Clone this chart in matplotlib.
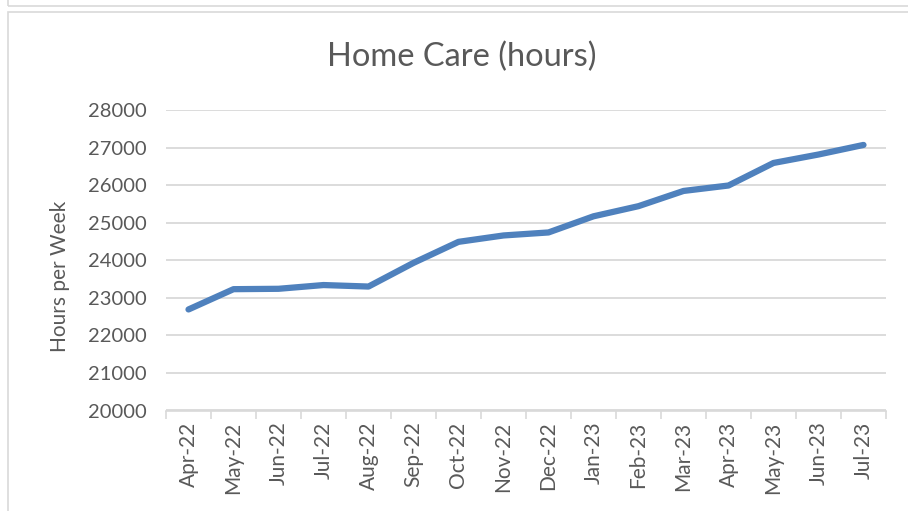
import matplotlib
matplotlib.use("Agg")
import matplotlib.pyplot as plt
from matplotlib.patches import Rectangle

months = ["Apr-22", "May-22", "Jun-22", "Jul-22", "Aug-22", "Sep-22", "Oct-22",
          "Nov-22", "Dec-22", "Jan-23", "Feb-23", "Mar-23", "Apr-23", "May-23",
          "Jun-23", "Jul-23"]
hours = [22690, 23230, 23240, 23340, 23300, 23930, 24490, 24660, 24740,
         25170, 25440, 25845, 25990, 26590, 26815, 27070]
yticks = [20000, 21000, 22000, 23000, 24000, 25000, 26000, 27000, 28000]

plt.rcParams['font.family'] = ['Lato', 'DejaVu Sans']
txt = '#595959'
W, H = 908, 511
fig = plt.figure(figsize=(W / 100, H / 100), dpi=100)

# outer frames (Excel chart area borders)
fig.add_artist(Rectangle((8 / W, 1 - 6 / H), 1.2, 0.2, transform=fig.transFigure,
                         fill=False, edgecolor='#d9d9d9', lw=1.2, clip_on=False))
fig.add_artist(Rectangle((8 / W, -0.2), 1.2, 1 - 12 / H + 0.2, transform=fig.transFigure,
                         fill=False, edgecolor='#d9d9d9', lw=1.2, clip_on=False))

ax = fig.add_axes([166 / W, 1 - 410.5 / H, 720 / W, 300.5 / H])
x = list(range(len(months)))
ax.plot(x, hours, color='#4f81bd', lw=4.5, solid_capstyle='round', solid_joinstyle='round')
ax.set_xlim(-0.5, len(months) - 0.5)
ax.set_ylim(20000, 28000)
ax.set_yticks(yticks)
ax.set_yticklabels([str(v) for v in yticks], fontsize=14.5, color=txt)
ax.yaxis.grid(True, color='#d9d9d9', lw=1.3)
ax.set_axisbelow(True)
ax.tick_params(axis='y', length=0, pad=14)

ax.set_xticks([i - 0.5 for i in range(len(months) + 1)], minor=False)
ax.set_xticklabels([''] * (len(months) + 1))
ax.set_xticks(x, minor=True)
ax.set_xticklabels(months, minor=True, rotation=90, fontsize=15, color=txt)
ax.tick_params(axis='x', which='major', length=6, color='#d9d9d9', width=1.2)
ax.tick_params(axis='x', which='minor', length=0, pad=8)

for s in ['top', 'right', 'left']:
    ax.spines[s].set_visible(False)
ax.spines['bottom'].set_color('#d9d9d9')
ax.spines['bottom'].set_linewidth(1.2)

fig.text(60 / W, 1 - 276 / H, 'Hours per Week', rotation=90, ha='center', va='center',
         fontsize=15, color=txt)
fig.text(462 / W, 1 - 57 / H, 'Home Care (hours)', ha='center', va='center',
         fontsize=23.5, color=txt)

fig.savefig('out.png', dpi=100)
